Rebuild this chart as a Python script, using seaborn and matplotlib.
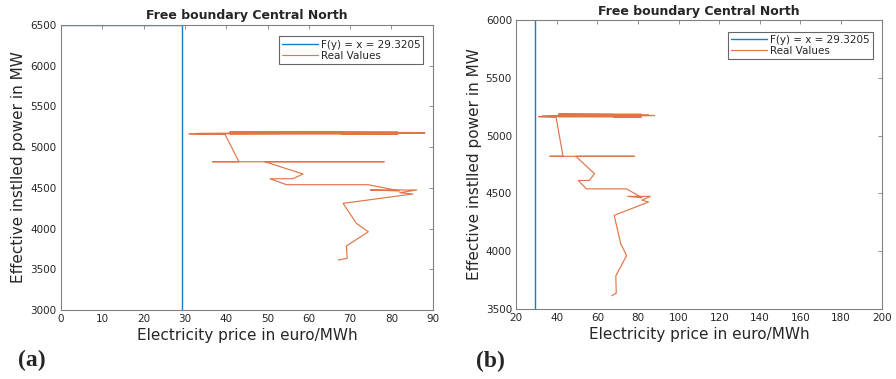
import numpy as np
import pandas as pd
import matplotlib
matplotlib.use("Agg")
import matplotlib.pyplot as plt
import seaborn as sns

# fitted boundary value shown in the legend
boundary_x = 29.3205

# boundary path (x = const, joined to the top-left corner)
boundary_price = [0, boundary_x, boundary_x]
boundary_power = [6500, 6500, 3000]

# real values path (price in euro/MWh, power in MW)
real_price = [67.1, 69.3, 69.1, 74.4, 71.5, 68.3, 85.2, 82.0, 86.1, 74.9, 82.0,
              74.4, 54.6, 50.6, 56.1, 58.6, 49.4, 78.2, 36.7, 43.1, 39.7,
              31.0, 88.1, 32.8, 85.2, 40.9, 81.5, 81.5, 40.9, 40.9, 81.5,
              81.5, 40.9, 40.9, 81.5, 81.5, 68.0, 68.0, 41.0]
real_power = [3614, 3635, 3786, 3961, 4065, 4310, 4425, 4441, 4474, 4474, 4462,
              4539, 4539, 4612, 4612, 4670, 4821, 4821, 4821, 4821, 5158,
              5164, 5174, 5168, 5180, 5186, 5186, 5180, 5180, 5174, 5174,
              5168, 5168, 5162, 5162, 5157, 5157, 5183, 5183]

title = "Free boundary Central North"
xlabel = "Electricity price in euro/MWh"
ylabel = "Effective instlled power in MW"
panel_labels = ["(a)", "(b)"]

panels = [
    dict(xlim=(0, 90), xticks=np.arange(0, 91, 10), ylim=(3000, 6500), yticks=np.arange(3000, 6501, 500)),
    dict(xlim=(20, 200), xticks=np.arange(20, 201, 20), ylim=(3500, 6000), yticks=np.arange(3500, 6001, 500)),
]

sns.set_style("white")
plt.rcParams['font.family'] = ['DejaVu Sans']

df_bound = pd.DataFrame({"price": boundary_price, "power": boundary_power})
df_real = pd.DataFrame({"price": real_price, "power": real_power})

BLUE = "#1a7cc0"
ORANGE = "#D95319"
GRAY = "#808080"

fig = plt.figure(figsize=(8.96, 3.79), dpi=100)
rects = [[0.068, 0.182, 0.415, 0.752], [0.576, 0.185, 0.408, 0.762]]

for i, (rect, p) in enumerate(zip(rects, panels)):
    ax = fig.add_axes(rect)
    sns.lineplot(data=df_bound, x="price", y="power", sort=False, estimator=None,
                 color=BLUE, linewidth=1.0, label="F(y) = x = 29.3205", ax=ax)
    sns.lineplot(data=df_real, x="price", y="power", sort=False, estimator=None,
                 color=ORANGE, linewidth=0.85, alpha=0.8, label="Real Values", ax=ax)

    ax.set_xlim(*p["xlim"])
    ax.set_ylim(*p["ylim"])
    ax.set_xticks(p["xticks"])
    ax.set_yticks(p["yticks"])
    ax.tick_params(direction="in", length=3, width=0.6, color=GRAY, labelsize=7.5,
                   top=True, right=True, labelcolor="#262626", pad=3)
    for s in ax.spines.values():
        s.set_color(GRAY)
        s.set_linewidth(0.8)

    ax.set_title(title, fontsize=9, fontweight="bold", pad=4)
    ax.set_xlabel(xlabel, fontsize=11, labelpad=3)
    ax.set_ylabel(ylabel, fontsize=11, labelpad=3)

    leg = ax.legend(loc="upper right", bbox_to_anchor=(0.975, 0.96), fontsize=7.5,
                    handlelength=3.4, frameon=True, fancybox=False, borderaxespad=0.0,
                    borderpad=0.3, labelspacing=0.1, handletextpad=0.3)
    leg.get_frame().set_edgecolor("#404040")
    leg.get_frame().set_linewidth(0.8)

fig.text(0.035, 1 - 360 / 379, panel_labels[0], fontsize=17, fontweight="bold",
         family="Liberation Serif", ha="center", va="center")
fig.text(0.547, 1 - 361 / 379, panel_labels[1], fontsize=17, fontweight="bold",
         family="Liberation Serif", ha="center", va="center")

fig.savefig("out.png", dpi=100)
